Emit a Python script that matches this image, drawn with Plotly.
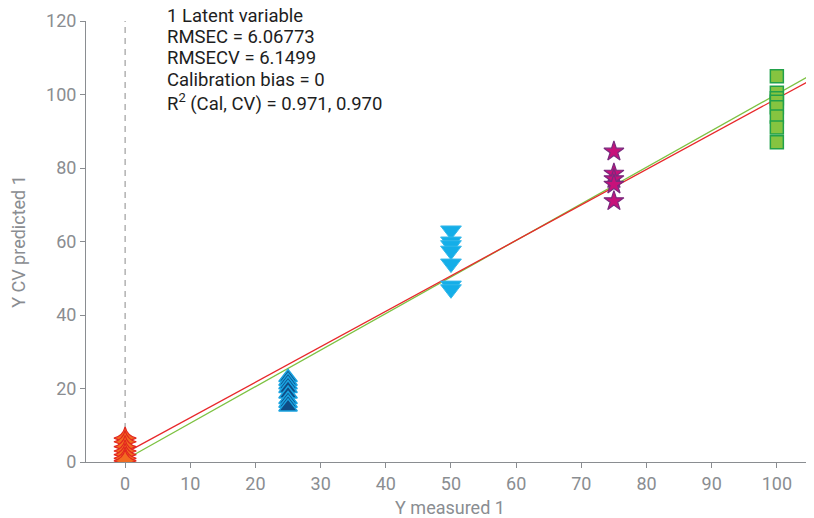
import plotly.graph_objects as go

# Data
x_red = [0, 0, 0, 0, 0, 0, 0]
y_red = [6.5, 5.5, 4.2, 3.0, 2.0, 1.0, 0.3]
x_blue = [25] * 8
y_blue = [23, 22, 21, 20, 18.5, 17, 16, 15]
x_cyan = [50] * 7
y_cyan = [63, 60, 59, 57.5, 54, 48, 47]
x_mag = [75] * 5
y_mag = [84.5, 78.5, 77, 75.5, 71]
x_green = [100] * 8
y_green = [105, 100.5, 99, 98, 96.5, 94, 91, 87]

cal_intercept, cal_slope = 2.4, 0.965
cv_intercept, cv_slope = 0.6, 0.995
line_x = [0, 106]

stats_lines = [
    "1 Latent variable",
    "RMSEC = 6.06773",
    "RMSECV = 6.1499",
    "Calibration bias = 0",
    "R<sup>2</sup> (Cal, CV) = 0.971, 0.970",
]
stats_y = [1.0113, 0.9637, 0.916, 0.866, 0.816]

fig = go.Figure()

fig.add_trace(go.Scatter(x=[0, 0], y=[0, 120], mode="lines",
                         line=dict(color="#8a8a8a", width=1, dash="6px,5px"),
                         hoverinfo="skip", showlegend=False))

fig.add_trace(go.Scatter(x=line_x, y=[cv_intercept + cv_slope * v for v in line_x],
                         mode="lines", line=dict(color="#7dc242", width=1.3), showlegend=False))
fig.add_trace(go.Scatter(x=line_x, y=[cal_intercept + cal_slope * v for v in line_x],
                         mode="lines", line=dict(color="#e8282b", width=1.3), showlegend=False))

fig.add_trace(go.Scatter(x=x_red, y=y_red, mode="markers",
                         marker=dict(symbol="star-diamond", size=16, color="#f26b21",
                                     line=dict(color="#e2261f", width=1.2)), showlegend=False))
fig.add_trace(go.Scatter(x=x_blue, y=y_blue, mode="markers",
                         marker=dict(symbol="triangle-up", size=16, color="#0f4d86",
                                     line=dict(color="#1aa3e0", width=1.5)), showlegend=False))
fig.add_trace(go.Scatter(x=x_cyan, y=y_cyan, mode="markers",
                         marker=dict(symbol="triangle-down", size=18, color="#14aee8",
                                     line=dict(color="#35b8ea", width=1)), showlegend=False))
fig.add_trace(go.Scatter(x=x_mag, y=y_mag, mode="markers",
                         marker=dict(symbol="star", size=15, color="#c7117a",
                                     line=dict(color="#7a2a7e", width=1.2)), showlegend=False))
fig.add_trace(go.Scatter(x=x_green, y=y_green, mode="markers",
                         marker=dict(symbol="square", size=13, color="#86c440",
                                     line=dict(color="#22a14a", width=1.5)), showlegend=False))

for txt, yy in zip(stats_lines, stats_y):
    fig.add_annotation(text=txt, xref="paper", yref="paper",
                       x=0.1085, y=yy, xanchor="left", yanchor="middle", showarrow=False,
                       align="left", font=dict(family="Roboto", size=18.5, color="#1e1e1e"))

axis_common = dict(showgrid=False, zeroline=False, showline=True, linecolor="#8a8d91",
                   linewidth=1, ticks="outside", ticklen=5, tickcolor="#8a8d91",
                   automargin=False,
                   tickfont=dict(family="Roboto", size=18, color="#8a8d91"),
                   title_font=dict(family="Roboto", size=18, color="#8a8d91"))

fig.update_layout(
    width=814, height=518,
    margin=dict(l=78, r=8, t=13, b=64),
    plot_bgcolor="white", paper_bgcolor="white",
    xaxis=dict(range=[-6, 105.7], tickvals=list(range(0, 101, 10)),
               title=dict(text="Y measured 1", standoff=8), **axis_common),
    yaxis=dict(range=[0, 120], tickvals=list(range(0, 121, 20)),
               title=dict(text="Y CV predicted 1", standoff=20), **axis_common),
)

fig.write_html("out.html")
